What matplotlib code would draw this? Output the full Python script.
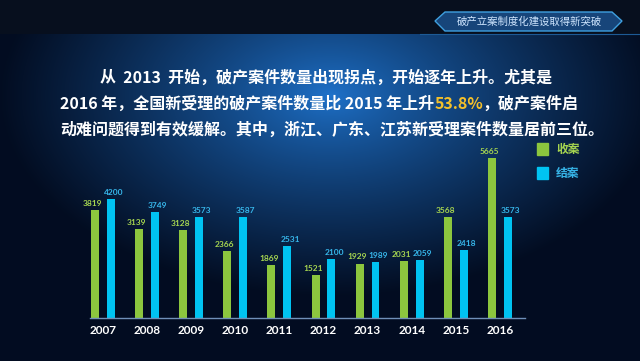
import numpy as np
import matplotlib.pyplot as plt
from matplotlib.patches import Polygon, Rectangle

years = ["2007", "2008", "2009", "2010", "2011", "2012", "2013", "2014", "2015", "2016"]
filed = [3819, 3139, 3128, 2366, 1869, 1521, 1929, 2031, 3568, 5665]
closed = [4200, 3749, 3573, 3587, 2531, 2100, 1989, 2059, 2418, 3573]
legend_labels = ["收案", "结案"]
header = "破产立案制度化建设取得新突破"

GREEN = "#8cc63e"
BLUE = "#00c3f2"
GREEN_TXT = "#a6d550"
BLUE_TXT = "#37b6ea"
CJK = ["Noto Sans CJK SC", "DejaVu Sans"]

W, H = 640, 361
fig = plt.figure(figsize=(6.4, 3.61), dpi=100)

# --- background gradient ---
bg = fig.add_axes([0, 0, 1, 1])
yy, xx = np.mgrid[0:H, 0:W]
d = np.sqrt(((xx - 330) / 330.0) ** 2 + ((yy - 95) / 200.0) ** 2)
t = np.clip(d, 0, 1) ** 0.8
c0 = np.array([0.12, 0.45, 0.80])
c1 = np.array([0.01, 0.05, 0.13])
img = c0[None, None, :] * (1 - t[..., None]) + c1[None, None, :] * t[..., None]
img[:34] = np.array([0.03, 0.06, 0.12])
bg.imshow(img, extent=[0, W, H, 0], aspect="auto")
bg.set_xlim(0, W)
bg.set_ylim(H, 0)
bg.axis("off")

# header box
bg.add_patch(Polygon([[445, 12], [612, 12], [622, 21], [612, 31], [445, 31], [435, 21]],
                     closed=True, facecolor="#17457a", edgecolor="#3fa0e0", lw=1))
bg.plot([420, 640], [34, 34], color="#1d5a95", lw=0.8)
bg.text(529, 21.5, header, color="#cfe6ff", fontsize=7.5, family=CJK,
        ha="center", va="center")

# paragraph text
fs = 11.5
tk = dict(color="white", fontsize=fs, fontweight="bold", family=CJK, va="center")
bg.text(100, 78, "从  2013  开始，破产案件数量出现拐点，开始逐年上升。尤其是", **tk)
renderer = fig.canvas.get_renderer()
parts = [("2016 年，全国新受理的破产案件数量比 2015 年上升", "white"),
         ("53.8%", "#f4c02a"),
         ("，破产案件启", "white")]
x = 60
inv = bg.transData.inverted()
for s, col in parts:
    tt = bg.text(x, 104, s, **{**tk, "color": col})
    bb = tt.get_window_extent(renderer)
    x = inv.transform((bb.x1, bb.y0))[0]
bg.text(60, 130, "动难问题得到有效缓解。其中，浙江、广东、江苏新受理案件数量居前三位。", **tk)

# legend
bg.add_patch(Rectangle((537, 143), 11, 12, color=GREEN))
bg.add_patch(Rectangle((537, 167), 11, 12, color=BLUE))
bg.text(556, 149.5, legend_labels[0], color=GREEN_TXT, fontsize=8.5, fontweight="bold",
        family=CJK, va="center")
bg.text(556, 173.5, legend_labels[1], color=BLUE_TXT, fontsize=8.5, fontweight="bold",
        family=CJK, va="center")

# --- bar chart ---
ax = fig.add_axes([90 / W, 43 / H, 435 / W, 169.5 / H])
ax.patch.set_alpha(0)
x = np.arange(len(years))
bw = 0.18
off = 0.18
ax.bar(x - off, filed, bw, color=GREEN)
ax.bar(x + off, closed, bw, color=BLUE)
for i in range(len(years)):
    ax.text(x[i] - off - 0.06, filed[i] + 110, str(filed[i]), color=GREEN_TXT, fontsize=6,
            fontweight="bold", family="Lato", ha="center", va="bottom")
    ax.text(x[i] + off + 0.06, closed[i] + 110, str(closed[i]), color=BLUE_TXT, fontsize=6,
            fontweight="bold", family="Lato", ha="center", va="bottom")
ax.set_xlim(-0.295, 9.57)
ax.set_ylim(0, 6000)
ax.set_xticks(x)
ax.set_xticklabels(years, color="white", fontsize=8.5, fontweight="bold", family="Lato")
ax.tick_params(axis="x", length=0, pad=5)
ax.set_yticks([])
for sp in ["top", "right", "left"]:
    ax.spines[sp].set_visible(False)
ax.spines["bottom"].set_color("#6f8fb8")
ax.spines["bottom"].set_linewidth(1)

fig.savefig("out.png", dpi=100)
